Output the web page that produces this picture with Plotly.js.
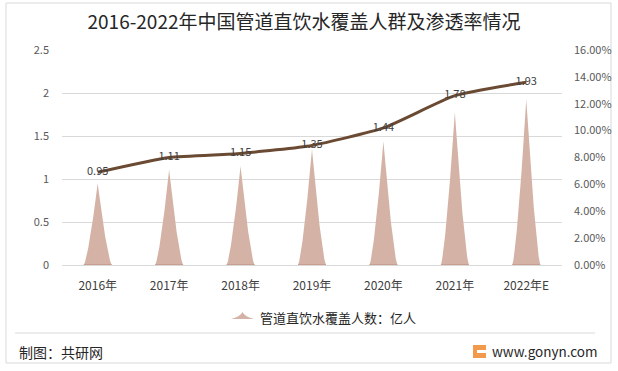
<!DOCTYPE html>
<html>
<head>
<meta charset="utf-8">
<script src="https://cdn.plot.ly/plotly-3.0.1.min.js"></script>
<style>
  html, body { margin: 0; padding: 0; background: #ffffff; }
  #chart { width: 618px; height: 371px; }
</style>
</head>
<body>
<div id="chart"></div>
<script>
// ---- data ----
const years = ['2016年', '2017年', '2018年', '2019年', '2020年', '2021年', '2022年E'];
const coverage = [0.95, 1.11, 1.15, 1.35, 1.44, 1.78, 1.93];        // 亿人
const penetration = [0.069, 0.080, 0.083, 0.089, 0.102, 0.126, 0.136]; // 渗透率
const coverageLabels = ['0.95', '1.11', '1.15', '1.35', '1.44', '1.78', '1.93'];
const seriesName = '管道直饮水覆盖人数：亿人';
const titleText = '2016-2022年中国管道直饮水覆盖人群及渗透率情况';

// ---- pointed (spike) bars built from the data ----
const halfW = 0.196, power = 1.38, steps = 40;
const idx = years.map((_, i) => i);
const sx = [], sy = [], bx = [], by = [];
coverage.forEach((v, i) => {
  for (let k = -steps; k <= steps; k++) {
    const u = k / steps;
    sx.push(i + u * halfW);
    sy.push(v * Math.pow(1 - Math.abs(u), power));
  }
  sx.push(null); sy.push(null);
  bx.push(i - halfW, i + halfW, null);
  by.push(0, 0, null);
});

const font = 'Noto Sans CJK SC, Noto Sans, sans-serif';

const traces = [
  {
    type: 'scatter', mode: 'lines', x: sx, y: sy,
    fill: 'toself', fillcolor: '#D4B3A6',
    line: { width: 0, color: '#D4B3A6' },
    hoverinfo: 'skip', showlegend: false
  },
  {
    type: 'scatter', mode: 'lines', x: bx, y: by,
    line: { width: 1.5, color: '#C4988A' },
    hoverinfo: 'skip', showlegend: false
  },
  {
    type: 'scatter', mode: 'lines+text', x: idx, y: penetration, yaxis: 'y2',
    line: { color: '#6A4A32', width: 3, shape: 'spline', smoothing: 0.5 },
    text: coverageLabels, textposition: 'middle center',
    textfont: { family: font, size: 11, color: '#404040' },
    hoverinfo: 'skip', showlegend: false
  }
];

// pixel -> paper helpers (plot area: x 62..562, y 50..265)
const PX = p => (p - 62) / 500;
const PY = p => (265 - p) / 215;

const layout = {
  width: 618, height: 371,
  margin: { l: 62, r: 56, t: 50, b: 106 },
  paper_bgcolor: '#ffffff', plot_bgcolor: '#ffffff',
  font: { family: font, color: '#595959' },
  showlegend: false,
  title: {
    text: titleText,
    x: 304 / 618, xanchor: 'center', xref: 'container',
    y: 1 - 22 / 371, yanchor: 'middle', yref: 'container',
    font: { family: font, size: 19, color: '#262626' }
  },
  xaxis: {
    range: [-0.5, 6.5], tickvals: idx, ticktext: years,
    showgrid: false, zeroline: false,
    showline: true, linecolor: '#D9D9D9', linewidth: 1,
    ticks: '', ticklabelstandoff: 10,
    tickfont: { family: font, size: 12, color: '#404040' },
    fixedrange: true
  },
  yaxis: {
    range: [0, 2.5], dtick: 0.5, tick0: 0,
    showgrid: true, gridcolor: '#D9D9D9', gridwidth: 1,
    zeroline: false, showline: false, ticks: '',
    ticklabelstandoff: 12,
    tickfont: { family: font, size: 11, color: '#595959' },
    fixedrange: true
  },
  yaxis2: {
    overlaying: 'y', side: 'right',
    range: [0, 0.16], dtick: 0.02, tick0: 0, tickformat: '.2%',
    showgrid: false, zeroline: false, showline: false, ticks: '',
    ticklabelstandoff: 11,
    tickfont: { family: font, size: 11, color: '#595959' },
    fixedrange: true
  },
  shapes: [
    // outer frame
    { type: 'rect', xref: 'paper', yref: 'paper', layer: 'below',
      x0: PX(6), x1: PX(611), y0: PY(363), y1: PY(3),
      line: { color: '#D9D9D9', width: 1 } },
    // footer separator
    { type: 'line', xref: 'paper', yref: 'paper',
      x0: PX(15), x1: PX(595), y0: PY(333), y1: PY(333),
      line: { color: '#D9D9D9', width: 1 } },
    // legend icon (peak shape)
    { type: 'path', xref: 'paper', yref: 'paper',
      path: 'M ' + PX(231) + ' ' + PY(319) + ' Q ' + PX(240) + ' ' + PY(317) + ' ' + PX(242.5) + ' ' + PY(312) +
            ' Q ' + PX(245) + ' ' + PY(317) + ' ' + PX(254) + ' ' + PY(319) + ' Z',
      fillcolor: '#D4B3A6', line: { width: 0 } },
    // logo square
    { type: 'rect', xref: 'paper', yref: 'paper',
      x0: PX(473), x1: PX(486), y0: PY(358), y1: PY(345),
      fillcolor: '#F29A4C', line: { width: 0 } },
    { type: 'rect', xref: 'paper', yref: 'paper',
      x0: PX(477), x1: PX(486), y0: PY(353), y1: PY(350),
      fillcolor: '#ffffff', line: { width: 0 } }
  ],
  annotations: [
    { xref: 'paper', yref: 'paper', x: PX(258), y: PY(317),
      xanchor: 'left', yanchor: 'middle', showarrow: false,
      text: seriesName, font: { family: font, size: 13, color: '#262626' } },
    { xref: 'paper', yref: 'paper', x: PX(17), y: PY(352),
      xanchor: 'left', yanchor: 'middle', showarrow: false,
      text: '制图：共研网', font: { family: font, size: 14, color: '#262626' } },
    { xref: 'paper', yref: 'paper', x: PX(490), y: PY(351),
      xanchor: 'left', yanchor: 'middle', showarrow: false,
      text: 'www.gonyn.com', font: { family: font, size: 13.5, color: '#262626' } }
  ]
};

Plotly.newPlot('chart', traces, layout, { staticPlot: true, displayModeBar: false });
</script>
</body>
</html>
